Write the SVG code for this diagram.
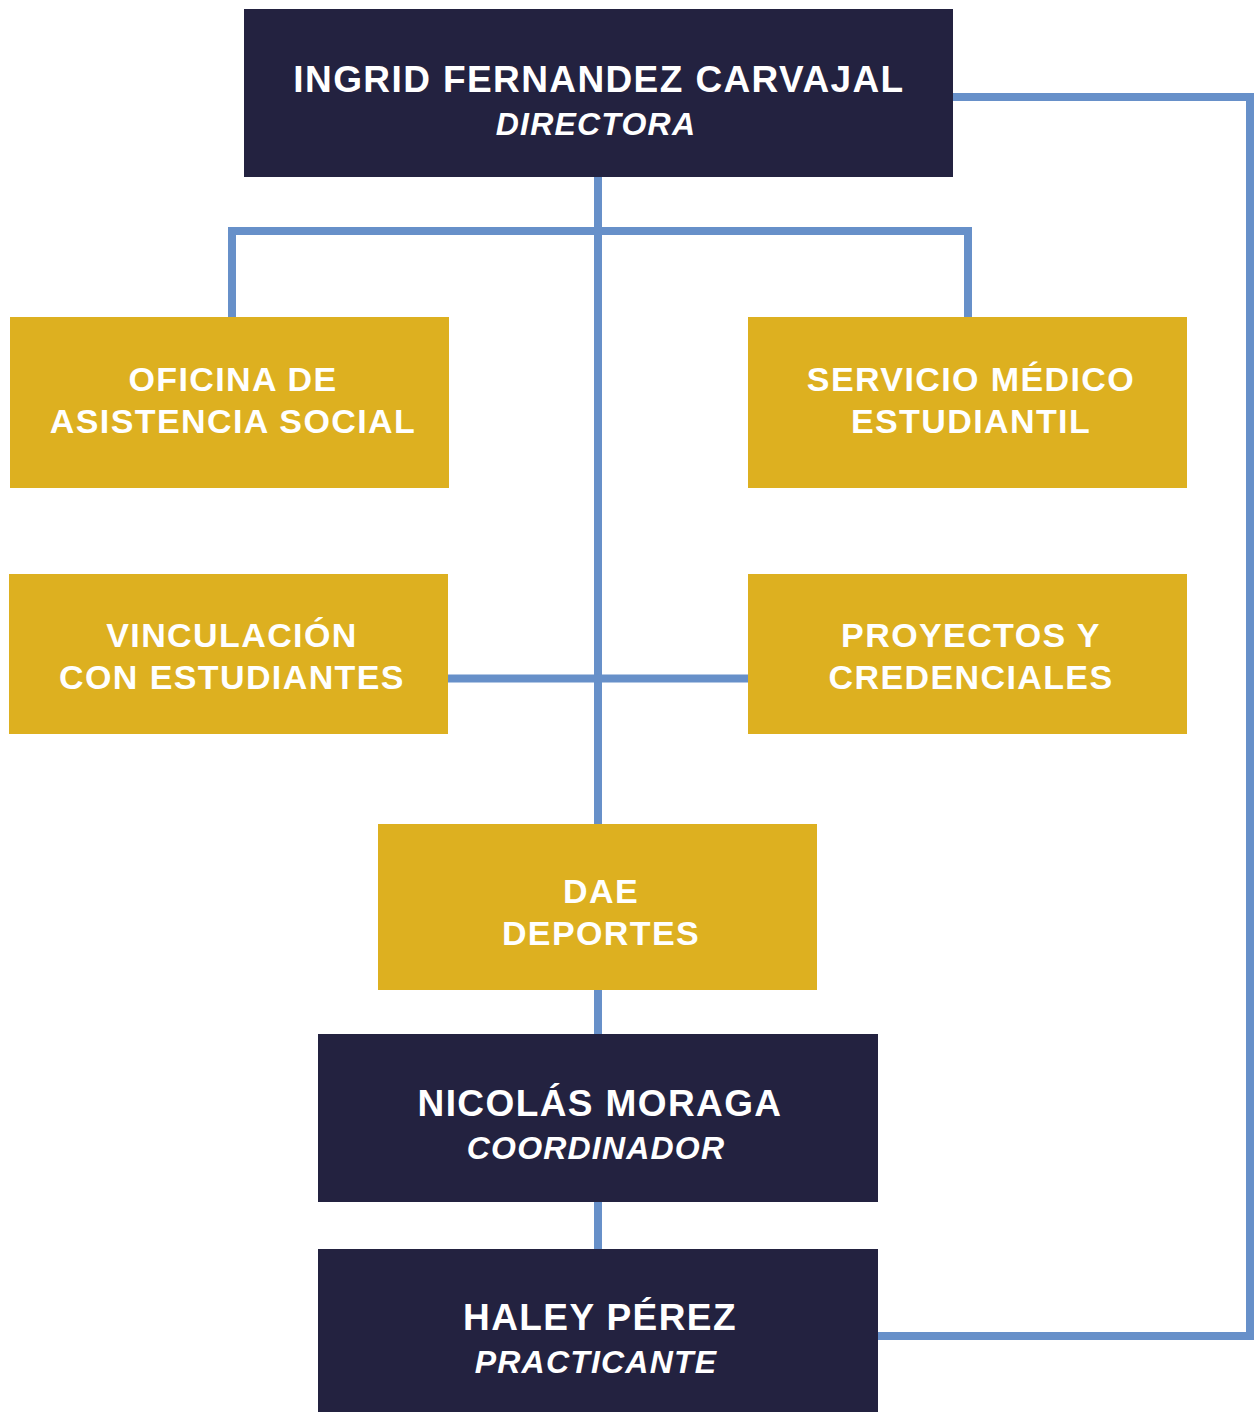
<svg xmlns="http://www.w3.org/2000/svg" width="1254" height="1412" viewBox="0 0 1254 1412">
<style>
.navy{fill:#232240}
.gold{fill:#DDB020}
.conn{fill:none;stroke:#6790C9;stroke-width:8}
text{font-family:"Liberation Sans",Arial,sans-serif;font-weight:bold;fill:#ffffff;text-anchor:middle}
.name{font-size:37px;letter-spacing:1.4px}
.role{font-size:32px;font-style:italic;letter-spacing:1.2px}
.unit{font-size:34px;letter-spacing:1.4px}
</style>
<rect width="1254" height="1412" fill="#ffffff"/>
<g id="connectors">
<path class="conn" d="M598 177 V824"/>
<path class="conn" d="M232 318 V231 H968 V318"/>
<path class="conn" d="M448 678.5 H752"/>
<path class="conn" d="M598 990 V1034"/>
<path class="conn" d="M598 1202 V1249"/>
<path class="conn" d="M953 97 H1250 V1336 H878"/>
</g>
<g id="directora">
<rect class="navy" x="244" y="9" width="709" height="168"/>
<text class="name" x="599" y="92">INGRID FERNANDEZ CARVAJAL</text>
<text class="role" x="596" y="135">DIRECTORA</text>
</g>
<g id="asistencia-social">
<rect class="gold" x="10" y="317" width="439" height="171"/>
<text class="unit" x="233" y="391">OFICINA DE</text>
<text class="unit" x="233" y="433">ASISTENCIA SOCIAL</text>
</g>
<g id="servicio-medico">
<rect class="gold" x="748" y="317" width="439" height="171"/>
<text class="unit" x="971" y="391">SERVICIO MÉDICO</text>
<text class="unit" x="971" y="433">ESTUDIANTIL</text>
</g>
<g id="vinculacion">
<rect class="gold" x="9" y="574" width="439" height="160"/>
<text class="unit" x="232" y="647">VINCULACIÓN</text>
<text class="unit" x="232" y="689">CON ESTUDIANTES</text>
</g>
<g id="proyectos">
<rect class="gold" x="748" y="574" width="439" height="160"/>
<text class="unit" x="971" y="647">PROYECTOS Y</text>
<text class="unit" x="971" y="689">CREDENCIALES</text>
</g>
<g id="dae-deportes">
<rect class="gold" x="378" y="824" width="439" height="166"/>
<text class="unit" x="601" y="903">DAE</text>
<text class="unit" x="601" y="945">DEPORTES</text>
</g>
<g id="coordinador">
<rect class="navy" x="318" y="1034" width="560" height="168"/>
<text class="name" x="600" y="1116">NICOLÁS MORAGA</text>
<text class="role" x="596" y="1159">COORDINADOR</text>
</g>
<g id="practicante">
<rect class="navy" x="318" y="1249" width="560" height="163"/>
<text class="name" x="600" y="1330">HALEY PÉREZ</text>
<text class="role" x="596" y="1373">PRACTICANTE</text>
</g>
</svg>
